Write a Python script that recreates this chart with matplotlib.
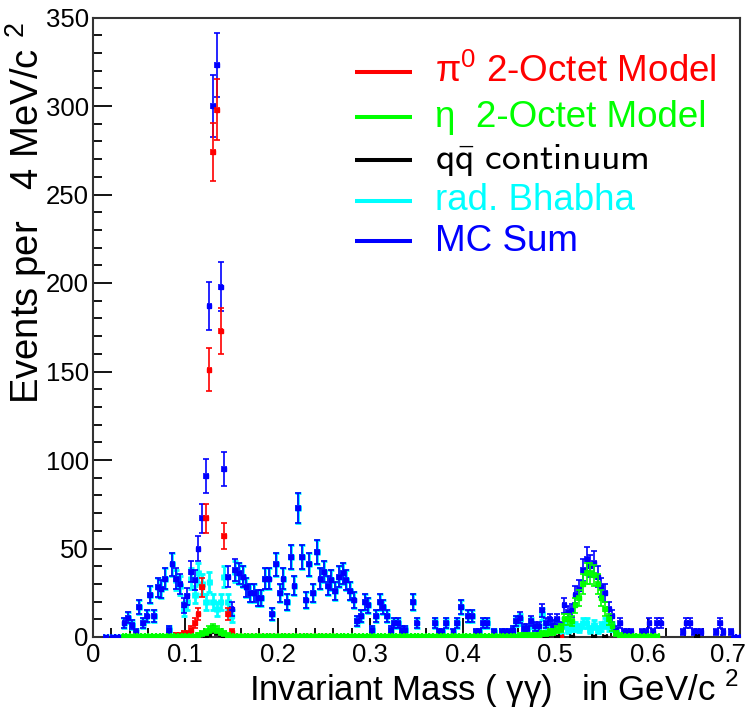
import numpy as np
import matplotlib.pyplot as plt
from matplotlib.ticker import MultipleLocator
from matplotlib.transforms import ScaledTranslation

plt.rcParams['font.family'] = ['Liberation Sans', 'DejaVu Sans']
plt.rcParams['mathtext.fontset'] = 'custom'
plt.rcParams['mathtext.rm'] = 'Liberation Sans'

# 4 MeV bins from 0 to 0.7 GeV
bin_width = 0.004
n_bins = 175

x_ticks = [0, 0.1, 0.2, 0.3, 0.4, 0.5, 0.6, 0.7]
x_tick_labels = ['0', '0.1', '0.2', '0.3', '0.4', '0.5', '0.6', '0.7']

# MC Sum (blue)
mc_sum = [None, None, None, 0, None, 0, 0, 0, 8, 11,
          7, 3, 17, 8, 12, 24, 12, 28, 27, 33,
          4, 41, 33, 30, 18, 23, 37, 32, 50, 67,
          91, 187, 300, 323, 198, 95, 34, 16, 38, 36,
          34, 28, 25, 25, 22, 22, 33, 33, 13, 41,
          25, 33, 20, 45, 29, 73, 45, 21, 41, 25,
          48, 33, 37, 29, 32, 26, 34, 36, 32, 26,
          21, 9, 12, 20, 18, 4, 12, 20, 17, 12,
          4, 8, 8, 4, 4, None, 20, 8, 0, 0,
          0, None, 8, 3, 3, 8, 0, 3, 8, 17,
          0, 12, 12, 3, 3, 8, 8, 0, 3, 0,
          3, 3, 3, 4, 9, 11, 5, 5, 9, 6,
          6, 15, 8, 10, 7, 10, 6, 18, 14, 15,
          24, 27, 38, 44, 40, 42, 34, 28, 25, 16,
          12, 4, 8, 3, 3, 3, None, None, 3, 3,
          8, 3, 8, 8, None, None, None, None, None, 3,
          8, 8, 3, 3, 3, None, None, None, 3, 8,
          3, None, 3, 0, 0]

# rad. Bhabha (cyan)
bhabha = [None, None, None, 0, None, 0, 0, 0, 8, 11,
          7, 3, 17, 8, 12, 24, 12, 28, 27, 33,
          4, 41, 32, 29, 16, 20, 33, 24, 36, 30,
          20, 31, 20, 16, 20, 34, 20, 12, 37, 36,
          34, 28, 25, 25, 22, 22, 33, 33, 13, 41,
          25, 33, 20, 45, 29, 73, 45, 21, 41, 25,
          48, 33, 37, 29, 32, 26, 34, 36, 32, 26,
          21, 9, 12, 20, 18, 4, 12, 20, 17, 12,
          4, 8, 8, 4, 4, None, 20, 8, 0, 0,
          0, None, 8, 3, 3, 8, 0, 3, 8, 17,
          0, 12, 12, 3, 3, 8, 8, 0, 3, 0,
          3, 3, 3, 4, 9, 10, 4, 4, 8, 5,
          5, 13, 6, 7, 4, 6, 1, 8, 4, 6,
          6, 5, 8, 8, 4, 7, 4, 6, 8, 6,
          6, 2, None, None, None, None, None, None, None, None,
          None, None, None, None, None, None, None, None, None, None,
          None, None, None, None, None, None, None, None, None, None,
          None, None, None, None, None]

# pi0 2-Octet Model (red)
pi0_model = [None] * 22 + [1, 1, 2, 2, 4, 8, 13, 28,
                           67, 151, 274, 298, 173, 57, 13, 3] + [0.3] * 28 + \
            [None] * 59 + [0, 0] + [None] * 24 + [0, 0] + [None] * 22

# eta 2-Octet Model (green)
eta_model = [None] * 8 + [0.5] * 20 + [1, 2, 3, 4, 5, 4, 3, 2, 1] + [0.5] * 78 + \
            [1, 1, 1, 1, 1, 1, 2, 2, 3, 3, 4, 5,
             10, 10, 9, 18, 22, 30, 36, 36, 35, 30, 22, 16, 10, 6, 2,
             1] + [0.5] * 10 + [None] * 22

# qq continuum (black)
qq_cont = [None] * 30 + [1, 2, 4, 3, 2, 1] + [None] * 86 + \
          [0, None, None, 0, None, None, None, 0, None, None, None, None, None, 0,
           None, None, 0] + [None] * 12 + [0] + [None] * 11 + [0] + [None] * 11

x = (np.arange(n_bins) + 0.5) * bin_width

fig = plt.figure(figsize=(7.54, 7.09), dpi=100)
ax = fig.add_axes([93 / 754, 1 - 637 / 709, 647 / 754, 619.5 / 709])


def draw(values, color, z, lw=1.2):
    y = np.array([np.nan if v is None else v for v in values], dtype=float)
    ax.errorbar(x, y, xerr=bin_width / 2, yerr=np.sqrt(y), fmt='s', ms=2.8,
                color=color, ecolor=color, elinewidth=lw, capsize=1.9,
                capthick=lw, zorder=z)


draw(bhabha, '#00ffff', 2, lw=2.0)
draw(mc_sum, '#0000ff', 3)
draw(pi0_model, '#ff0000', 4)
draw(qq_cont, '#000000', 5)
draw(eta_model, '#00ff00', 6)

ax.set_xlim(0, 0.7)
ax.set_ylim(0, 350)
ax.set_xticks(x_ticks)
ax.set_xticklabels(x_tick_labels)
ax.xaxis.set_minor_locator(MultipleLocator(0.02))
ax.yaxis.set_major_locator(MultipleLocator(50))
ax.yaxis.set_minor_locator(MultipleLocator(10))
ax.tick_params(which='major', direction='in', length=13.5, width=1.3,
               labelsize=18.5, top=False, right=False)
ax.tick_params(axis='y', pad=3)
ax.tick_params(axis='x', pad=4)
ax.tick_params(which='minor', direction='in', length=6.5, width=1.3,
               top=False, right=False)
for s in ax.spines.values():
    s.set_linewidth(1.5)
    s.set_color('#333333')

# keep the last x label inside the canvas
last = ax.get_xticklabels()[-1]
last.set_ha('right')
last.set_transform(last.get_transform() + ScaledTranslation(6 / 100, 0, fig.dpi_scale_trans))

fig.text(26 / 754, 1 - 22 / 709, 'Events per   4 MeV/c $^{2}$', rotation=90,
         ha='center', va='top', fontsize=27.5)
fig.text(739 / 754, 1 - 689 / 709, 'Invariant Mass ( γγ)   in GeV/c $^{2}$',
         ha='right', va='center', fontsize=25)

# legend
entries = [(r'$\mathrm{\pi}^{0}$ 2-Octet Model', '#ff0000', 0.912),
           ('η  2-Octet Model', '#00ff00', 0.839),
           (r'$\mathsf{q\bar{q}\ continuum}$', '#000000', 0.770),
           ('rad. Bhabha', '#00ffff', 0.704),
           ('MC Sum', '#0000ff', 0.639)]
for label, col, yy in entries:
    ax.plot([0.405, 0.493], [yy, yy], transform=ax.transAxes, color=col, lw=2.9,
            solid_capstyle='butt')
    t = ax.text(0.5286, yy, label, transform=ax.transAxes, color=col, va='center',
                ha='left', fontsize=26.5)
    if 'continuum' in label:
        t.set_math_fontfamily('cm')
        t.set_fontsize(27)

fig.savefig('out.png', dpi=100)
